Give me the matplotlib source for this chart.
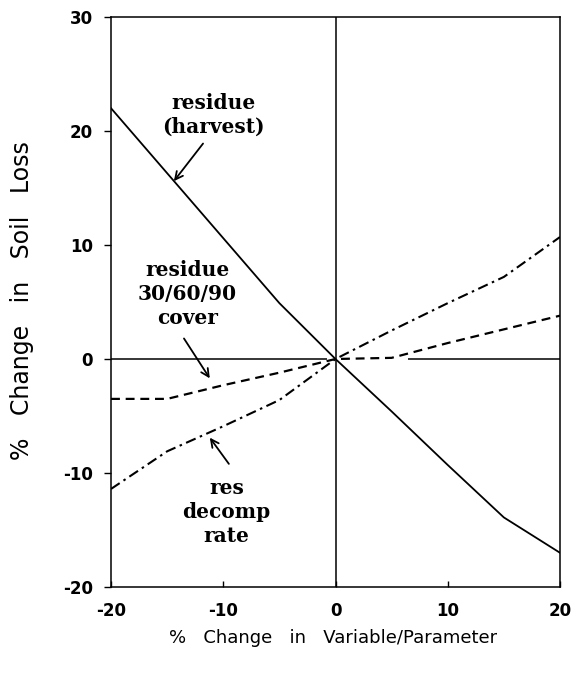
import numpy as np
import matplotlib
matplotlib.use("Agg")
import matplotlib.pyplot as plt

plt.rcParams["axes.unicode_minus"] = False

# percent change in variable/parameter
change = [-20, -15, -10, -5, 0, 5, 10, 15, 20]

# percent change in soil loss for each parameter
residue_harvest = [22.0, 16.3, 10.6, 4.9, 0.0, -4.6, -9.3, -13.9, -17.0]
residue_cover = [-3.5, -3.5, -2.3, -1.2, 0.0, 0.1, 1.4, 2.6, 3.8]
res_decomp = [-11.4, -8.1, -5.9, -3.6, 0.0, 2.5, 4.9, 7.2, 10.7]

x_ticks = [-20, -10, 0, 10, 20]
y_ticks = [-20, -10, 0, 10, 20, 30]

fig = plt.figure(figsize=(5.74, 6.75), dpi=100)
ax = fig.add_axes([0.1934, 0.1304, 0.7822, 0.8444])

ax.plot(change, residue_harvest, "-", color="black", lw=1.3)
ax.plot(change, residue_cover, color="black", lw=1.6, dashes=(4, 2.6))
ax.plot(change, res_decomp, color="black", lw=1.5, dashes=(5, 2.2, 1.2, 2.2))

# reference lines through the origin
ax.axvline(0, color="black", lw=1.1)
ax.hlines([0, 0], [-20, 6.5], [-0.8, 20], color="black", lw=1.1)

ax.set_xlim(-20, 20)
ax.set_ylim(-20, 30)
ax.set_xticks(x_ticks)
ax.set_yticks(y_ticks)
ax.tick_params(axis="x", direction="in", length=4, width=1, pad=11, top=False)
ax.tick_params(axis="y", direction="out", length=5, width=1, pad=8, right=False)
for lab in ax.get_xticklabels() + ax.get_yticklabels():
    lab.set_fontweight("bold")
    lab.set_fontsize(12)
    lab.set_family("DejaVu Sans")
for sp in ax.spines.values():
    sp.set_linewidth(1.1)

ax.set_xlabel("%   Change   in   Variable/Parameter", fontsize=13, family="DejaVu Sans")
ax.xaxis.set_label_coords(0.495, -0.089)
ax.xaxis.label.set_va("center")
ax.set_ylabel("%   Change   in   Soil   Loss", fontsize=17, family="DejaVu Sans")
ax.yaxis.set_label_coords(-0.198, 0.502)
ax.yaxis.label.set_va("center")

note = dict(ha="center", va="center", multialignment="center",
            fontsize=14.5, fontweight="bold", family="DejaVu Serif", linespacing=1.25)
arrow = dict(arrowstyle="->", color="black", lw=1.3, mutation_scale=14, shrinkA=0, shrinkB=0)

ax.annotate("", xy=(-14.4, 15.6), xytext=(-11.8, 18.9), arrowprops=arrow)
ax.annotate("", xy=(-11.2, -1.7), xytext=(-13.5, 1.8), arrowprops=arrow)
ax.annotate("", xy=(-11.2, -6.9), xytext=(-9.5, -9.2), arrowprops=arrow)

ax.text(-10.9, 21.4, "residue\n(harvest)", **note)
ax.text(-13.2, 5.7, "residue\n30/60/90\ncover", **note)
ax.text(-9.7, -13.4, "res\ndecomp\nrate", **note)

plt.savefig("out.png", dpi=100)
